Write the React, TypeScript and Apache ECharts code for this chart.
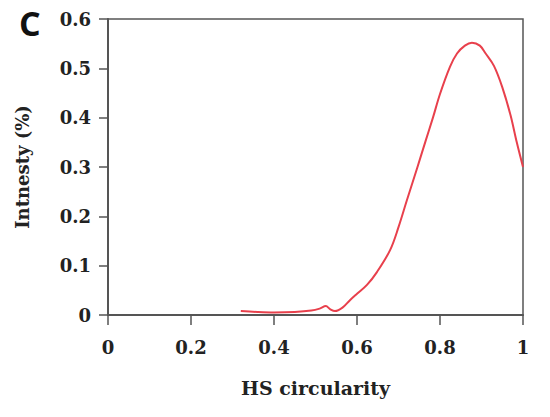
import React, { useEffect, useRef } from "react";
import * as echarts from "echarts";

const circularity = [
  0.32, 0.36, 0.40, 0.45, 0.49, 0.51, 0.525, 0.535, 0.547, 0.565, 0.583, 0.60,
  0.624, 0.648, 0.68, 0.70, 0.72, 0.745, 0.765, 0.783, 0.80, 0.824, 0.841, 0.86,
  0.877, 0.896, 0.91, 0.93, 0.95, 0.97, 0.985, 1.0,
];
const intensity = [
  0.008, 0.006, 0.005, 0.006, 0.009, 0.013, 0.018, 0.012, 0.008, 0.015, 0.030, 0.043,
  0.061, 0.087, 0.132, 0.178, 0.232, 0.298, 0.352, 0.400, 0.448, 0.503, 0.530, 0.546,
  0.552, 0.546, 0.530, 0.505, 0.462, 0.405, 0.350, 0.300,
];
const panelLabel = "C";
const xTitle = "HS circularity";
const yTitle = "Intnesty (%)";

export default function App() {
  const ref = useRef<HTMLDivElement>(null);
  useEffect(() => {
    if (!ref.current) return;
    const chart = echarts.init(ref.current, null, { renderer: "svg" });
    const axisColor = "#555";
    const labelFont = {
      fontFamily: "DejaVu Serif",
      fontWeight: "bold" as const,
      fontSize: 18,
      color: "#222",
    };
    chart.setOption({
      animation: false,
      backgroundColor: "#fff",
      grid: {
        left: 108,
        right: 27,
        top: 19,
        bottom: 102,
        show: true,
        borderColor: axisColor,
        borderWidth: 1.5,
      },
      graphic: [
        {
          type: "text",
          left: 19,
          top: 6,
          style: {
            text: panelLabel,
            font: "bold 34px 'Open Sans'",
            fill: "#111",
          },
        },
      ],
      xAxis: {
        type: "value",
        min: 0,
        max: 1,
        interval: 0.2,
        name: xTitle,
        nameLocation: "middle",
        nameGap: 63,
        nameTextStyle: { ...labelFont, fontSize: 19 },
        axisLine: { show: true, lineStyle: { color: axisColor, width: 2 } },
        axisTick: { show: true, inside: false, length: 10, lineStyle: { color: axisColor, width: 1.5 } },
        axisLabel: { ...labelFont, margin: 23 },
        splitLine: { show: false },
      },
      yAxis: {
        type: "value",
        min: 0,
        max: 0.6,
        interval: 0.1,
        name: yTitle,
        nameLocation: "middle",
        nameGap: 77,
        nameTextStyle: { ...labelFont, fontSize: 18 },
        axisLine: { show: true, lineStyle: { color: axisColor, width: 2 } },
        axisTick: { show: true, inside: false, length: 9, lineStyle: { color: axisColor, width: 1.5 } },
        axisLabel: { ...labelFont, margin: 17 },
        splitLine: { show: false },
      },
      series: [
        {
          type: "line",
          data: circularity.map((x, i) => [x, intensity[i]]),
          smooth: 0.35,
          showSymbol: false,
          lineStyle: { color: "#e8404c", width: 2 },
        },
      ],
    });
    return () => chart.dispose();
  }, []);
  return (
    <div
      ref={ref}
      style={{ position: "absolute", left: 0, top: 0, width: 550, height: 417 }}
    />
  );
}
